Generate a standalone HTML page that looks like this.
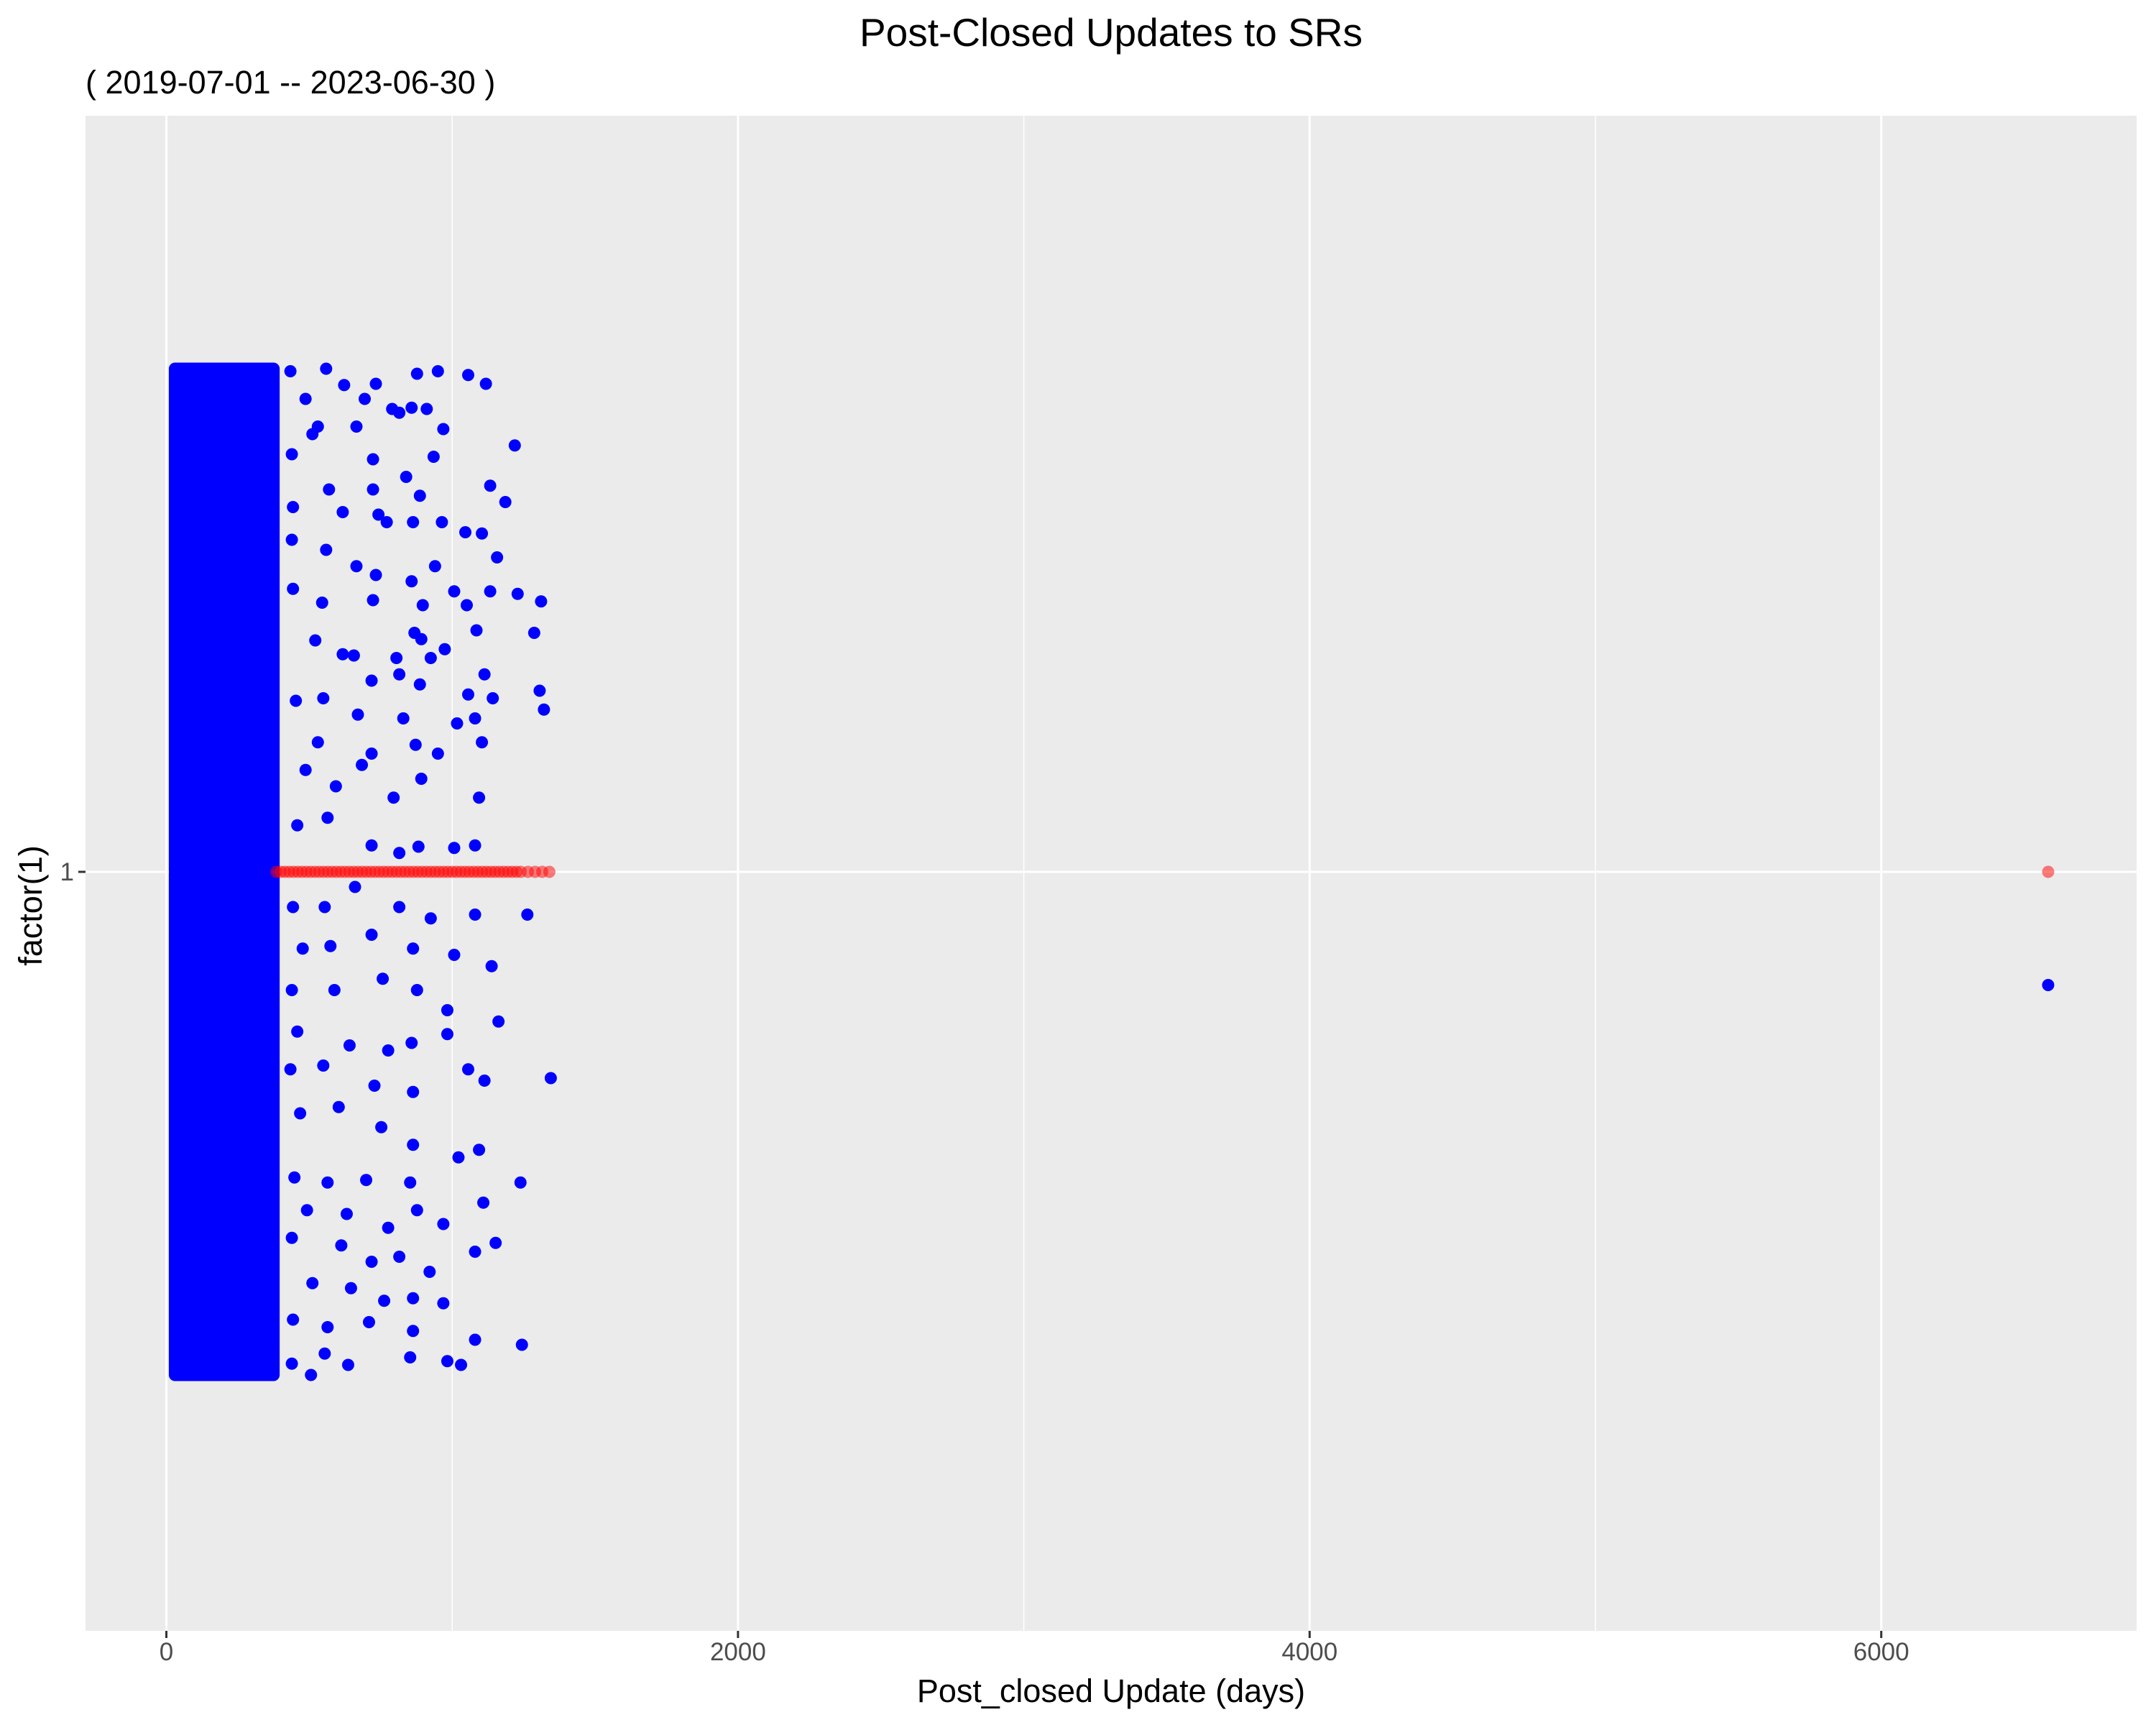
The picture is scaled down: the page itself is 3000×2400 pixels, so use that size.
<!DOCTYPE html>
<html><head><meta charset="utf-8"><style>
html,body{margin:0;padding:0;background:#fff;}
svg{display:block;font-family:"Liberation Sans",sans-serif;}
</style></head><body>
<svg id="chart" width="3000" height="2400" viewBox="0 0 3000 2400">
<rect width="3000" height="2400" fill="#fff"/>
<text x="1546" y="64" font-size="55" text-anchor="middle" fill="#000">Post-Closed Updates to SRs</text>
<text x="119" y="130" font-size="45" fill="#000">( 2019-07-01 -- 2023-06-30 )</text>
<rect x="119" y="161" width="2854" height="2108" fill="#ebebeb"/>
<g id="grid"></g>
<g id="marks"></g>
<g id="axes"></g>
<text x="1546" y="2368" font-size="45" text-anchor="middle" fill="#000">Post_closed Update (days)</text>
<text transform="translate(58,1260) rotate(-90)" font-size="45" text-anchor="middle" fill="#000">factor(1)</text>
</svg>
<script>
const xTicks = [0, 2000, 4000, 6000];
const xMinor = [1000, 3000, 5000];
const yCategories = ["1"];
const denseRange = [30, 375];
const denseJitter = [-0.4, 0.4];
const blueDays = [434,559,622,733,877,950,1056,1118,487,694,790,858,911,530,665,815,969,1219,439,511,723,839,935,569,723,887,1133,1186,443,617,742,771,863,964,1046,1104,439,559,665,733,858,940,1007,1157,1229,1311,1287,443,545,723,897,1051,1085,1133,868,892,521,617,656,805,925,974,718,815,887,1056,1113,1142,1306,1321,453,549,670,829,1017,1080,530,718,872,950,1104,487,593,684,795,892,1094,458,564,718,815,882,1007,1080,443,554,660,815,925,1080,1263,477,574,718,863,1007,1138,439,588,757,877,983,1162,458,641,776,858,983,1345,434,549,728,863,1056,1113,468,603,752,863,1094,448,564,699,853,1022,1239,492,631,776,877,969,1109,439,612,718,815,921,1080,1152,511,646,762,863,969,443,564,709,863,1080,1244,439,506,636,853,1031,983,554,6584];
const blueJitter = [.398,.40,.387,.388,.396,.398,.395,.388,.376,.376,.368,.369,.368,.354,.354,.365,.352,.339,.332,.348,.328,.314,.33,.304,.304,.299,.307,.294,.29,.286,.284,.278,.278,.278,.27,.269,.264,.256,.243,.236,.231,.243,.223,.25,.221,.215,.19,.225,.214,.216,.212,.212,.192,.223,.19,.185,.184,.173,.172,.17,.17,.177,.152,.157,.149,.141,.157,.138,.144,.129,.136,.138,.125,.122,.118,.122,.103,.094,.101,.094,.103,.081,.068,.085,.059,.074,.059,.037,.043,.021,.015,.02,.019,.021,-.028,-.028,-.012,-.028,-.037,-.034,-.034,-.061,-.059,-.05,-.061,-.066,-.075,-.094,-.094,-.085,-.094,-.11,-.119,-.127,-.138,-.142,-.136,-.129,-.164,-.157,-.154,-.17,-.175,-.157,-.166,-.192,-.187,-.203,-.217,-.221,-.243,-.247,-.245,-.247,-.227,-.247,-.269,-.272,-.283,-.269,-.28,-.263,-.291,-.297,-.31,-.306,-.318,-.302,-.295,-.327,-.331,-.341,-.339,-.343,-.356,-.362,-.358,-.365,-.372,-.376,-.391,-.40,-.392,-.386,-.392,-.389,-.383,-.09];
const redDays = [385,400,415,430,445,460,475,490,505,520,535,550,565,580,595,610,625,640,655,670,685,700,715,730,745,760,775,790,805,820,835,850,865,880,895,910,925,940,955,970,985,1000,1015,1030,1045,1060,1075,1090,1105,1120,1135,1150,1165,1180,1195,1210,1225,1240,1265,1290,1315,1340,6584];

const NS = "http://www.w3.org/2000/svg";
const xScale = d => 231.5 + d * 0.3977;
const yScale = j => 1213 - j * 1750;
const grid = document.getElementById('grid');
const marks = document.getElementById('marks');
const axes = document.getElementById('axes');
function mk(tag, attrs, parent){const e=document.createElementNS(NS,tag);for(const k in attrs)e.setAttribute(k,attrs[k]);parent.appendChild(e);return e;}

xMinor.forEach(v=>{
  const l = mk('line',{x1:xScale(v),x2:xScale(v),y1:161,y2:2269,stroke:'#fff','stroke-width':1.5},grid);
  
  
});
xTicks.forEach(v=>{
  const l = mk('line',{x1:xScale(v),x2:xScale(v),y1:161,y2:2269,stroke:'#fff','stroke-width':3},grid);
  
  
  const t = mk('line',{x1:xScale(v),x2:xScale(v),y1:2269,y2:2279,stroke:'#333','stroke-width':3},axes);
  
  
  const tx = mk('text',{x:xScale(v),y:2310,'font-size':35,'text-anchor':'middle',fill:'#4d4d4d'},axes);
  tx.textContent = v;
  
  
});
yCategories.forEach((c,i)=>{
  const y = yScale(0);
  const l = mk('line',{x1:119,x2:2973,y1:y,y2:y,stroke:'#fff','stroke-width':3},grid);
  
  
  const t = mk('line',{x1:109,x2:119,y1:y,y2:y,stroke:'#333','stroke-width':3},axes);
  
  
  const tx = mk('text',{x:103,y:y+12,'font-size':35,'text-anchor':'end',fill:'#4d4d4d'},axes);
  tx.textContent = c;
  
  
});
const r = 8.5;
const dense = mk('rect',{x:xScale(denseRange[0])-r,y:yScale(denseJitter[1])-r,width:xScale(denseRange[1])-xScale(denseRange[0])+2*r,height:yScale(denseJitter[0])-yScale(denseJitter[1])+2*r,rx:r,fill:'#0000ff'},marks);


blueDays.forEach((d,i)=>{
  const c = mk('circle',{cx:xScale(d),cy:yScale(blueJitter[i]),r:r,fill:'#0000ff'},marks);
  
  
});
redDays.forEach(d=>{
  const c = mk('circle',{cx:xScale(d),cy:yScale(0),r:r,fill:'#ff0000','fill-opacity':0.5},marks);
  
  
});
</script>
</body></html>
